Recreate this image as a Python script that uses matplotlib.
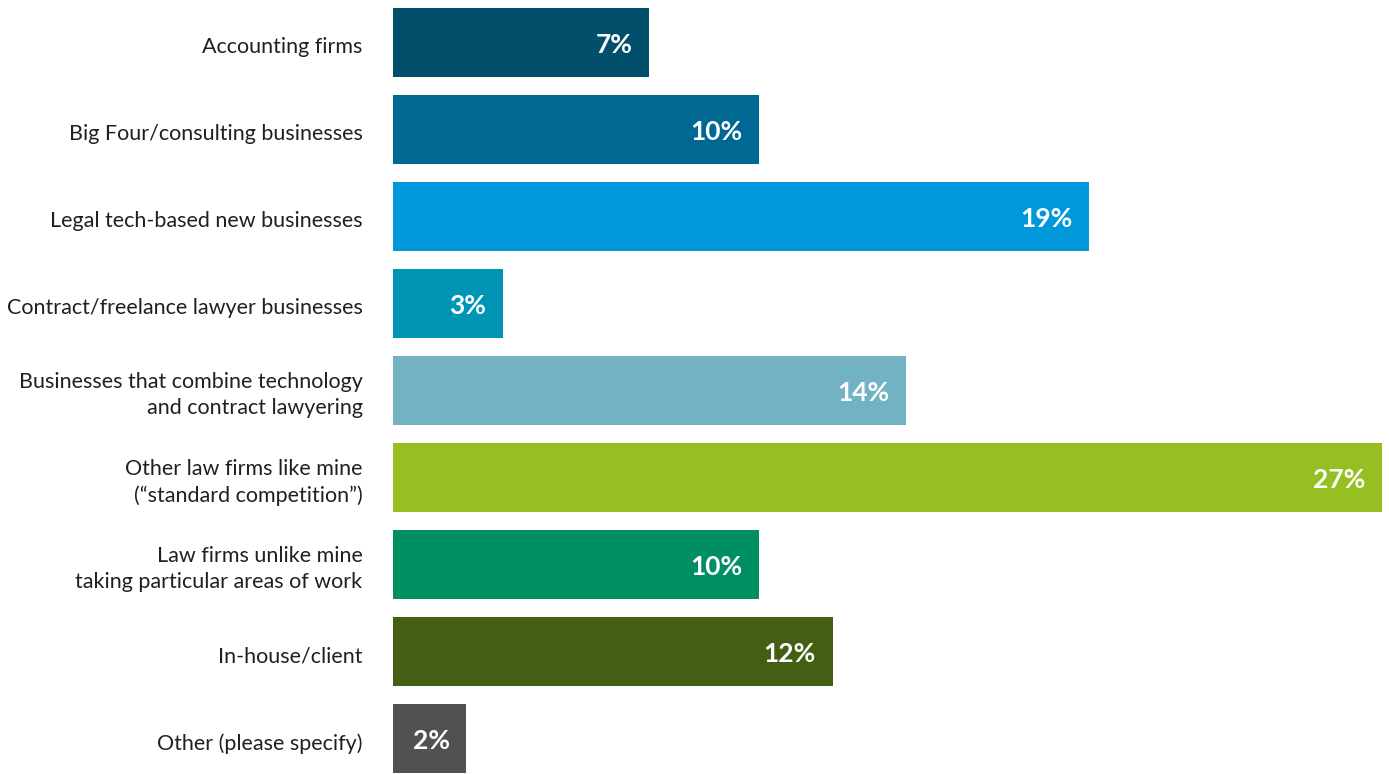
import matplotlib.pyplot as plt
from matplotlib.transforms import offset_copy

plt.rcParams['font.family'] = ['Lato', 'DejaVu Sans']

categories = [
    "Accounting firms",
    "Big Four/consulting businesses",
    "Legal tech-based new businesses",
    "Contract/freelance lawyer businesses",
    "Businesses that combine technology\nand contract lawyering",
    "Other law firms like mine\n(\u201cstandard competition\u201d)",
    "Law firms unlike mine\ntaking particular areas of work",
    "In-house/client",
    "Other (please specify)",
]
values = [7, 10, 19, 3, 14, 27, 10, 12, 2]
colors = ["#024F6B", "#006893", "#0098DB", "#0095B5", "#72B2C3",
          "#96C022", "#008F63", "#445E14", "#515151"]

fig = plt.figure(figsize=(13.89, 7.74), dpi=100)
ax = fig.add_axes([0.283, 0.0, 0.712, 1.0])

pos = list(range(len(categories)))
ax.barh(pos, values, height=0.79, color=colors, edgecolor="none")

ax.set_xlim(0, max(values))
ax.set_ylim(8.41, -0.49)

# percentage labels inside the bar ends
for y, v in zip(pos, values):
    tr = offset_copy(ax.transData, fig=fig, x=-12, y=-2, units="points")
    ax.text(v, y, f"{v}%", transform=tr, ha="right", va="center",
            color="white", fontsize=19, fontweight="bold")

# category labels to the left of the bars
for y, c in zip(pos, categories):
    tr = offset_copy(ax.transData, fig=fig, x=-22, y=-3.5, units="points")
    ax.text(0, y, c, transform=tr, ha="right", va="center",
            color="#231F20", fontsize=15.5, linespacing=1.38)

ax.set_xticks([])
ax.set_yticks([])
for s in ax.spines.values():
    s.set_visible(False)

fig.savefig("out.png", dpi=100, facecolor="white")
